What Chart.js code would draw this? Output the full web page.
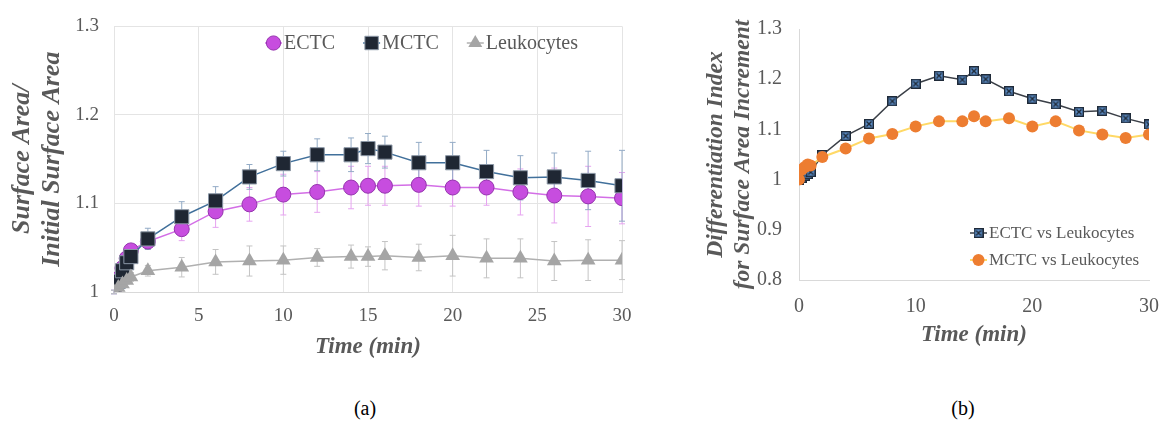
<!DOCTYPE html>
<html>
<head>
<meta charset="utf-8">
<script src="https://cdn.jsdelivr.net/npm/chart.js@4.4.0/dist/chart.umd.min.js"></script>
<style>
  body { margin: 0; background: #fff; width: 1174px; height: 423px; overflow: hidden; position: relative; }
  canvas { position: absolute; top: 0; }
  #chart-a { left: 0; }
  #chart-b { left: 680px; }
  .caption { position: absolute; top: 397px; font: 20px "Liberation Serif", serif; color: #000; transform: translateX(-50%); }
</style>
</head>
<body>
<canvas id="chart-a" width="650" height="370"></canvas>
<canvas id="chart-b" width="494" height="370"></canvas>
<div class="caption" style="left:365px">(a)</div>
<div class="caption" style="left:963px">(b)</div>
<script>
// tempos de medição (min)
const times = [0, 0.25, 0.5, 0.75, 1, 2, 4, 6, 8, 10, 12, 14, 15, 16, 18, 20, 22, 24, 26, 28, 30];

// painel (a): área relativa e desvio
const ectc = [1.000, 1.015, 1.027, 1.038, 1.047, 1.057, 1.071, 1.091, 1.099, 1.110, 1.113, 1.118, 1.120, 1.120, 1.121, 1.118, 1.118, 1.113, 1.109, 1.108, 1.106];
const ectcErr = [0.002, 0.004, 0.005, 0.006, 0.006, 0.008, 0.013, 0.018, 0.019, 0.023, 0.023, 0.024, 0.022, 0.022, 0.024, 0.021, 0.020, 0.026, 0.031, 0.034, 0.029];
const mctc = [1.000, 1.012, 1.024, 1.033, 1.040, 1.060, 1.085, 1.103, 1.130, 1.145, 1.155, 1.155, 1.162, 1.158, 1.146, 1.146, 1.136, 1.129, 1.130, 1.126, 1.120];
const mctcErr = [0.002, 0.004, 0.005, 0.006, 0.007, 0.012, 0.017, 0.016, 0.014, 0.014, 0.018, 0.019, 0.017, 0.018, 0.023, 0.023, 0.024, 0.025, 0.027, 0.033, 0.040];
const leuko = [1.000, 1.005, 1.009, 1.013, 1.017, 1.024, 1.028, 1.034, 1.035, 1.036, 1.039, 1.040, 1.040, 1.041, 1.039, 1.041, 1.038, 1.038, 1.035, 1.036, 1.036];
const leukoErr = [0.002, 0.003, 0.004, 0.004, 0.005, 0.006, 0.011, 0.014, 0.017, 0.016, 0.010, 0.013, 0.011, 0.016, 0.015, 0.023, 0.022, 0.022, 0.022, 0.023, 0.022];

// painel (b): índice de diferenciação
const ectcVsLeuko = [1.000, 1.004, 1.008, 1.011, 1.015, 1.049, 1.087, 1.111, 1.156, 1.191, 1.207, 1.199, 1.216, 1.200, 1.176, 1.161, 1.150, 1.135, 1.137, 1.122, 1.110];
const mctcVsLeuko = [1.000, 1.020, 1.025, 1.030, 1.028, 1.045, 1.062, 1.082, 1.091, 1.106, 1.116, 1.116, 1.126, 1.116, 1.122, 1.106, 1.116, 1.098, 1.090, 1.083, 1.090];

const SERIF = '"Liberation Serif", "Times New Roman", serif';
const GRAY_TEXT = '#595959';

function toPoints(values) {
    return values.map((v, i) => ({ x: times[i], y: v }));
}

// rótulos como no Excel: 1, 1.1, 1.2 ...
function shortNum(v) {
    return String(Number(v.toFixed(2)));
}

// barras de erro desenhadas atrás dos marcadores
const errorBars = {
    id: 'errorBars',
    beforeDatasetsDraw(chart) {
        const ctx = chart.ctx;
        const yScale = chart.scales.y;
        chart.data.datasets.forEach((ds, i) => {
            if (!ds.errors) return;
            const meta = chart.getDatasetMeta(i);
            ctx.save();
            ctx.strokeStyle = ds.errorColor;
            ctx.lineWidth = 1;
            meta.data.forEach((pt, j) => {
                const v = ds.data[j].y;
                const top = yScale.getPixelForValue(v + ds.errors[j]);
                const bot = yScale.getPixelForValue(v - ds.errors[j]);
                ctx.beginPath();
                ctx.moveTo(pt.x, top); ctx.lineTo(pt.x, bot);
                ctx.moveTo(pt.x - 3, top); ctx.lineTo(pt.x + 3, top);
                ctx.moveTo(pt.x - 3, bot); ctx.lineTo(pt.x + 3, bot);
                ctx.stroke();
            });
            ctx.restore();
        });
    }
};

// legenda dentro da área do gráfico
const inlineLegend = {
    id: 'inlineLegend',
    afterDraw(chart, args, opts) {
        const ctx = chart.ctx;
        ctx.save();
        ctx.font = opts.font;
        ctx.textBaseline = 'middle';
        let x = opts.x, y = opts.y;
        chart.data.datasets.forEach(ds => {
            ctx.strokeStyle = ds.borderColor;
            ctx.lineWidth = ds.borderWidth;
            ctx.beginPath();
            ctx.moveTo(x, y);
            ctx.lineTo(x + opts.lineLen, y);
            ctx.stroke();
            ctx.fillStyle = ds.pointBackgroundColor;
            ctx.strokeStyle = ds.pointBorderColor;
            ctx.lineWidth = ds.pointBorderWidth || 0;
            Chart.helpers.drawPoint(ctx, {
                pointStyle: ds.pointStyle,
                radius: ds.pointRadius * (opts.markerScale || 1),
                rotation: 0,
                borderWidth: ds.pointBorderWidth || 0
            }, x + opts.lineLen / 2, y);
            ctx.fillStyle = opts.color;
            ctx.fillText(ds.label, x + opts.lineLen + 2, y + 1);
            if (opts.vertical) {
                y += opts.rowGap;
            } else {
                x += opts.lineLen + 2 + ctx.measureText(ds.label).width + opts.gap;
            }
        });
        ctx.restore();
    }
};

// marcador quadrado com X para o painel (b)
function crossSquare() {
    const c = document.createElement('canvas');
    c.width = 10; c.height = 10;
    const g = c.getContext('2d');
    g.fillStyle = '#5b8cc6';
    g.fillRect(0, 0, 10, 10);
    g.strokeStyle = '#1f2a38';
    g.lineWidth = 1.4;
    g.strokeRect(0.7, 0.7, 8.6, 8.6);
    g.beginPath();
    g.moveTo(2.5, 2.5); g.lineTo(7.5, 7.5);
    g.moveTo(7.5, 2.5); g.lineTo(2.5, 7.5);
    g.stroke();
    return c;
}

const tickFont = { family: SERIF, size: 19 };
const titleFont = { family: SERIF, size: 23, weight: 'bold', style: 'italic' };

new Chart(document.getElementById('chart-a'), {
    type: 'line',
    data: {
        datasets: [{
            label: 'ECTC',
            data: toPoints(ectc),
            errors: ectcErr,
            errorColor: '#e6a3f0',
            borderColor: '#d36ee6',
            borderWidth: 1.5,
            pointStyle: 'circle',
            pointRadius: 7.5,
            pointBackgroundColor: '#c74ddf',
            pointBorderColor: '#9434ad',
            pointBorderWidth: 1,
            order: 3
        }, {
            label: 'MCTC',
            data: toPoints(mctc),
            errors: mctcErr,
            errorColor: '#93abc6',
            borderColor: '#41709b',
            borderWidth: 1.5,
            pointStyle: 'rect',
            pointRadius: 10,
            pointBackgroundColor: '#1f2733',
            pointBorderColor: '#8b97a6',
            pointBorderWidth: 1,
            order: 2
        }, {
            label: 'Leukocytes',
            data: toPoints(leuko),
            errors: leukoErr,
            errorColor: '#c4c4c4',
            borderColor: '#b0b0b0',
            borderWidth: 1.5,
            pointStyle: 'triangle',
            pointRadius: 8.5,
            pointBackgroundColor: '#a5a5a5',
            pointBorderColor: '#a5a5a5',
            pointBorderWidth: 0,
            order: 1
        }]
    },
    options: {
        responsive: false,
        animation: false,
        layout: { padding: { left: 0, right: 28, top: 20, bottom: 0 } },
        plugins: {
            legend: { display: false },
            tooltip: { enabled: false },
            inlineLegend: { x: 265, y: 43, lineLen: 17, gap: 28, font: '20px ' + SERIF, color: GRAY_TEXT, markerScale: 0.95 }
        },
        scales: {
            x: {
                type: 'linear', min: 0, max: 30,
                afterFit: s => { s.height = 78; },
                ticks: { stepSize: 5, font: tickFont, color: GRAY_TEXT, padding: 13, maxRotation: 0 },
                grid: { color: '#e4e4e4', drawTicks: false },
                border: { color: '#d9d9d9' },
                title: { display: true, text: 'Time (min)', font: titleFont, color: GRAY_TEXT, padding: { top: 0, bottom: 9 } }
            },
            y: {
                min: 1, max: 1.3,
                afterFit: s => { s.width = 114; },
                ticks: { stepSize: 0.1, font: tickFont, color: GRAY_TEXT, padding: 15, callback: shortNum },
                grid: { color: '#e4e4e4', drawTicks: false },
                border: { color: '#e4e4e4' },
                title: {
                    display: true,
                    text: ['Surface Area/', 'Initial Surface Area'],
                    font: Object.assign({}, titleFont, { size: 26, lineHeight: '30px' }),
                    color: GRAY_TEXT,
                    padding: { top: 7, bottom: 0 }
                }
            }
        }
    },
    plugins: [errorBars, inlineLegend]
});

new Chart(document.getElementById('chart-b'), {
    type: 'line',
    data: {
        datasets: [{
            label: 'ECTC vs Leukocytes',
            data: toPoints(ectcVsLeuko),
            borderColor: '#3a3f47',
            borderWidth: 1.5,
            pointStyle: crossSquare(),
            pointRadius: 5,
            pointBackgroundColor: '#5b8cc6',
            pointBorderColor: '#1f2a38',
            order: 2
        }, {
            label: 'MCTC vs Leukocytes',
            data: toPoints(mctcVsLeuko),
            borderColor: '#ffd966',
            borderWidth: 2,
            pointStyle: 'circle',
            pointRadius: 6,
            pointBackgroundColor: '#ed7d31',
            pointBorderColor: '#ed7d31',
            pointBorderWidth: 0,
            order: 1
        }]
    },
    options: {
        responsive: false,
        animation: false,
        layout: { padding: { left: 0, right: 17, top: 27, bottom: 0 } },
        plugins: {
            legend: { display: false },
            tooltip: { enabled: false },
            inlineLegend: { x: 290, y: 233, lineLen: 17, vertical: true, rowGap: 27, font: '17px ' + SERIF, color: GRAY_TEXT }
        },
        scales: {
            x: {
                type: 'linear', min: 0, max: 30,
                afterFit: s => { s.height = 90; },
                ticks: { stepSize: 10, font: { family: SERIF, size: 20 }, color: GRAY_TEXT, padding: 15, maxRotation: 0 },
                grid: { display: false, drawTicks: false },
                border: { color: '#d9d9d9' },
                title: { display: true, text: 'Time (min)', font: titleFont, color: GRAY_TEXT, padding: { top: 0, bottom: 21 } }
            },
            y: {
                min: 0.8, max: 1.3,
                afterFit: s => { s.width = 119; },
                ticks: { stepSize: 0.1, font: { family: SERIF, size: 20 }, color: GRAY_TEXT, padding: 17, callback: shortNum },
                grid: { display: false, drawTicks: false },
                border: { color: '#d9d9d9' },
                title: {
                    display: true,
                    text: ['Differentiation Index', 'for Surface Area Increment'],
                    font: Object.assign({}, titleFont, { size: 23.5, lineHeight: '27px' }),
                    color: GRAY_TEXT,
                    padding: { top: 22, bottom: 0 }
                }
            }
        }
    },
    plugins: [inlineLegend]
});
</script>
</body>
</html>
